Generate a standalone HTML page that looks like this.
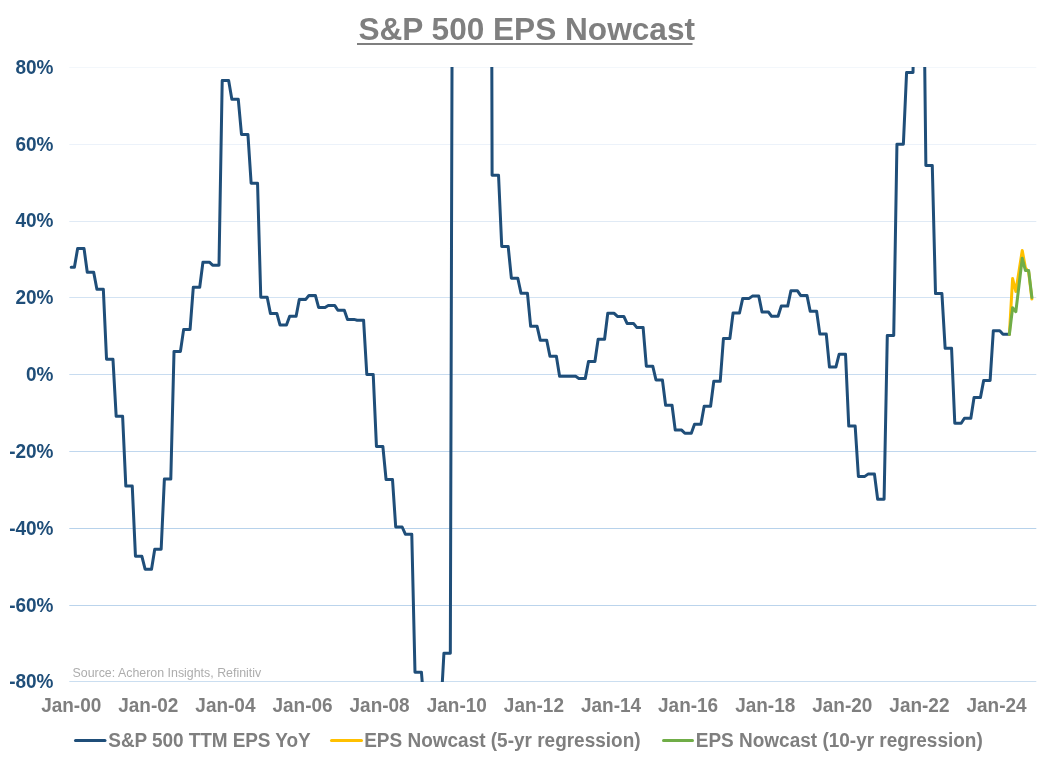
<!DOCTYPE html>
<html><head><meta charset="utf-8"><style>
html,body{margin:0;padding:0;background:#fff;}
body{width:1050px;height:767px;overflow:hidden;position:relative;}
svg{position:absolute;left:0;top:0;will-change:transform;}
text{font-family:"Liberation Sans",sans-serif;}
.yl{font-size:19px;font-weight:bold;fill:#1F4E79;}
.xl{font-size:19px;font-weight:bold;fill:#7F7F7F;}
.lg{font-size:19px;font-weight:bold;fill:#7F7F7F;}
.src{font-size:12.4px;fill:#ADADAD;}
.ttl{font-size:31.6px;font-weight:bold;fill:#7F7F7F;}
</style></head><body>
<svg width="1050" height="767" viewBox="0 0 1050 767">
<defs><clipPath id="pa"><rect x="66" y="67" width="975" height="615"/></clipPath></defs>
<text x="526.7" y="39.8" text-anchor="middle" class="ttl">S&amp;P 500 EPS Nowcast</text>
<rect x="357" y="43" width="335.5" height="2" fill="#7F7F7F"/>
<rect x="69.3" y="67" width="967" height="1" fill="#F3F7FB"/><rect x="69.3" y="144" width="967" height="1" fill="#ECF2FA"/><rect x="69.3" y="221" width="967" height="1" fill="#E0EAF5"/><rect x="69.3" y="297" width="967" height="1" fill="#D3E3F3"/><rect x="69.3" y="374" width="967" height="1" fill="#C8DCF0"/><rect x="69.3" y="451" width="967" height="1" fill="#C0D7EE"/><rect x="69.3" y="528" width="967" height="1" fill="#B7D2EB"/><rect x="69.3" y="605" width="967" height="1" fill="#BBD4EC"/><rect x="69.3" y="681" width="967" height="1" fill="#CBDEF0"/>
<text transform="translate(53.5,74.0) scale(1,1.07)" text-anchor="end" class="yl">80%</text><text transform="translate(53.5,151.0) scale(1,1.07)" text-anchor="end" class="yl">60%</text><text transform="translate(53.5,227.0) scale(1,1.07)" text-anchor="end" class="yl">40%</text><text transform="translate(53.5,304.0) scale(1,1.07)" text-anchor="end" class="yl">20%</text><text transform="translate(53.5,381.0) scale(1,1.07)" text-anchor="end" class="yl">0%</text><text transform="translate(53.5,458.0) scale(1,1.07)" text-anchor="end" class="yl">-20%</text><text transform="translate(53.5,535.0) scale(1,1.07)" text-anchor="end" class="yl">-40%</text><text transform="translate(53.5,612.0) scale(1,1.07)" text-anchor="end" class="yl">-60%</text><text transform="translate(53.5,688.0) scale(1,1.07)" text-anchor="end" class="yl">-80%</text>
<text transform="translate(71.2,711.7) scale(1,1.07)" text-anchor="middle" class="xl">Jan-00</text><text transform="translate(148.3,711.7) scale(1,1.07)" text-anchor="middle" class="xl">Jan-02</text><text transform="translate(225.4,711.7) scale(1,1.07)" text-anchor="middle" class="xl">Jan-04</text><text transform="translate(302.5,711.7) scale(1,1.07)" text-anchor="middle" class="xl">Jan-06</text><text transform="translate(379.6,711.7) scale(1,1.07)" text-anchor="middle" class="xl">Jan-08</text><text transform="translate(456.8,711.7) scale(1,1.07)" text-anchor="middle" class="xl">Jan-10</text><text transform="translate(533.9,711.7) scale(1,1.07)" text-anchor="middle" class="xl">Jan-12</text><text transform="translate(611.0,711.7) scale(1,1.07)" text-anchor="middle" class="xl">Jan-14</text><text transform="translate(688.1,711.7) scale(1,1.07)" text-anchor="middle" class="xl">Jan-16</text><text transform="translate(765.2,711.7) scale(1,1.07)" text-anchor="middle" class="xl">Jan-18</text><text transform="translate(842.3,711.7) scale(1,1.07)" text-anchor="middle" class="xl">Jan-20</text><text transform="translate(919.4,711.7) scale(1,1.07)" text-anchor="middle" class="xl">Jan-22</text><text transform="translate(996.5,711.7) scale(1,1.07)" text-anchor="middle" class="xl">Jan-24</text>
<text x="72.5" y="677.3" class="src">Source: Acheron Insights, Refinitiv</text>
<g clip-path="url(#pa)" fill="none" stroke-linejoin="round" stroke-linecap="round">
<path d="M71.20,267.20 L74.41,267.20 L77.63,248.60 L80.84,248.60 L84.05,248.60 L87.27,272.30 L90.48,272.30 L93.69,272.30 L96.90,289.20 L100.12,289.20 L103.33,289.20 L106.54,359.30 L109.76,359.30 L112.97,359.30 L116.18,416.30 L119.40,416.30 L122.61,416.30 L125.82,486.10 L129.03,486.10 L132.25,486.10 L135.46,556.30 L138.67,556.30 L141.89,556.30 L145.10,569.20 L148.31,569.20 L151.53,569.20 L154.74,549.30 L157.95,549.30 L161.16,549.30 L164.38,479.10 L167.59,479.10 L170.80,479.10 L174.02,351.40 L177.23,351.40 L180.44,351.40 L183.66,329.40 L186.87,329.40 L190.08,329.40 L193.29,287.30 L196.51,287.30 L199.72,287.30 L202.93,262.20 L206.15,262.20 L209.36,262.20 L212.57,265.20 L215.79,265.20 L219.00,265.20 L222.21,80.50 L225.42,80.50 L228.64,80.50 L231.85,99.30 L235.06,99.30 L238.28,99.30 L241.49,134.40 L244.70,134.40 L247.92,134.40 L251.13,183.20 L254.34,183.20 L257.55,183.20 L260.77,297.20 L263.98,297.20 L267.19,297.20 L270.41,313.40 L273.62,313.40 L276.83,313.40 L280.05,325.10 L283.26,325.10 L286.47,325.10 L289.68,316.30 L292.90,316.30 L296.11,316.30 L299.32,299.40 L302.54,299.40 L305.75,299.40 L308.96,295.40 L312.18,295.40 L315.39,295.40 L318.60,307.40 L321.81,307.40 L325.03,307.40 L328.24,305.40 L331.45,305.40 L334.67,305.40 L337.88,310.30 L341.09,310.30 L344.31,310.30 L347.52,319.40 L350.73,319.40 L353.94,319.40 L357.16,320.20 L360.37,320.20 L363.58,320.20 L366.80,374.50 L370.01,374.50 L373.22,374.50 L376.44,446.40 L379.65,446.40 L382.86,446.40 L386.07,479.50 L389.29,479.50 L392.50,479.50 L395.71,527.00 L398.93,527.00 L402.14,527.00 L405.35,534.20 L408.56,534.20 L411.78,534.20 L414.99,672.20 L418.20,672.20 L421.42,672.20 L424.63,712.00 L427.84,712.00 L431.06,712.00 L434.27,712.00 L437.48,712.00 L440.69,712.00 L443.91,653.30 L447.12,653.30 L450.33,653.30 L453.55,-474.00 L456.76,-474.00 L459.97,-474.00 L463.19,-1100.00 L466.40,-1100.00 L469.61,-1100.00 L472.82,-1100.00 L476.04,-1100.00 L479.25,-1100.00 L482.46,-1100.00 L485.68,-1100.00 L488.89,-1100.00 L492.10,175.20 L495.32,175.20 L498.53,175.20 L501.74,246.40 L504.95,246.40 L508.17,246.40 L511.38,278.20 L514.59,278.20 L517.81,278.20 L521.02,293.30 L524.23,293.30 L527.45,293.30 L530.66,326.30 L533.87,326.30 L537.09,326.30 L540.30,340.30 L543.51,340.30 L546.72,340.30 L549.94,356.30 L553.15,356.30 L556.36,356.30 L559.58,376.30 L562.79,376.30 L566.00,376.30 L569.22,376.30 L572.43,376.30 L575.64,376.30 L578.85,378.40 L582.07,378.40 L585.28,378.40 L588.49,361.50 L591.71,361.50 L594.92,361.50 L598.13,339.30 L601.35,339.30 L604.56,339.30 L607.77,313.30 L610.98,313.30 L614.20,313.30 L617.41,316.40 L620.62,316.40 L623.84,316.40 L627.05,323.40 L630.26,323.40 L633.48,323.40 L636.69,327.40 L639.90,327.40 L643.11,327.40 L646.33,366.20 L649.54,366.20 L652.75,366.20 L655.97,379.90 L659.18,379.90 L662.39,379.90 L665.61,405.30 L668.82,405.30 L672.03,405.30 L675.24,430.10 L678.46,430.10 L681.67,430.10 L684.88,433.30 L688.10,433.30 L691.31,433.30 L694.52,424.30 L697.74,424.30 L700.95,424.30 L704.16,406.30 L707.37,406.30 L710.59,406.30 L713.80,381.30 L717.01,381.30 L720.23,381.30 L723.44,338.50 L726.65,338.50 L729.87,338.50 L733.08,313.00 L736.29,313.00 L739.50,313.00 L742.72,298.40 L745.93,298.40 L749.14,298.40 L752.36,296.10 L755.57,296.10 L758.78,296.10 L762.00,312.00 L765.21,312.00 L768.42,312.00 L771.63,316.30 L774.85,316.30 L778.06,316.30 L781.27,306.10 L784.49,306.10 L787.70,306.10 L790.91,290.70 L794.13,290.70 L797.34,290.70 L800.55,295.40 L803.76,295.40 L806.98,295.40 L810.19,311.30 L813.40,311.30 L816.62,311.30 L819.83,334.10 L823.04,334.10 L826.26,334.10 L829.47,367.10 L832.68,367.10 L835.89,367.10 L839.11,354.30 L842.32,354.30 L845.53,354.30 L848.75,426.10 L851.96,426.10 L855.17,426.10 L858.39,476.40 L861.60,476.40 L864.81,476.40 L868.02,474.10 L871.24,474.10 L874.45,474.10 L877.66,499.30 L880.88,499.30 L884.09,499.30 L887.30,335.40 L890.52,335.40 L893.73,335.40 L896.94,144.30 L900.15,144.30 L903.37,144.30 L906.58,72.50 L909.79,72.50 L913.01,72.50 L916.22,-116.00 L919.43,-116.00 L922.65,-116.00 L925.86,165.60 L929.07,165.60 L932.28,165.60 L935.50,293.60 L938.71,293.60 L941.92,293.60 L945.14,348.30 L948.35,348.30 L951.56,348.30 L954.78,423.20 L957.99,423.20 L961.20,423.20 L964.41,418.30 L967.63,418.30 L970.84,418.30 L974.05,397.40 L977.27,397.40 L980.48,397.40 L983.69,380.40 L986.91,380.40 L990.12,380.40 L993.33,330.70 L996.54,330.70 L999.76,330.70 L1002.97,334.20 L1006.18,334.20 L1009.40,334.20" stroke="#1F4E79" stroke-width="3"/>
<path d="M1009.40,334.20 L1012.61,278.50 L1015.82,291.50 L1019.04,271.00 L1022.25,250.40 L1025.46,268.00 L1028.67,272.00 L1031.89,299.00" stroke="#FFC000" stroke-width="3"/>
<path d="M1009.40,334.20 L1012.61,307.80 L1015.82,311.70 L1019.04,285.00 L1022.25,258.30 L1025.46,270.60 L1028.67,270.60 L1031.89,297.40" stroke="#70AD47" stroke-width="3"/>
</g>
<line x1="75.5" y1="740.6" x2="105" y2="740.6" stroke="#1F4E79" stroke-width="3" stroke-linecap="round"/>
<text transform="translate(108.3,746.7) scale(1,1.07)" class="lg" textLength="202.4" lengthAdjust="spacing">S&amp;P 500 TTM EPS YoY</text>
<line x1="331.5" y1="740.6" x2="361.5" y2="740.6" stroke="#FFC000" stroke-width="3" stroke-linecap="round"/>
<text transform="translate(364.2,746.7) scale(1,1.07)" class="lg">EPS Nowcast (5-yr regression)</text>
<line x1="663.5" y1="740.6" x2="692.5" y2="740.6" stroke="#70AD47" stroke-width="3" stroke-linecap="round"/>
<text transform="translate(695.8,746.7) scale(1,1.07)" class="lg">EPS Nowcast (10-yr regression)</text>
</svg>
</body></html>
